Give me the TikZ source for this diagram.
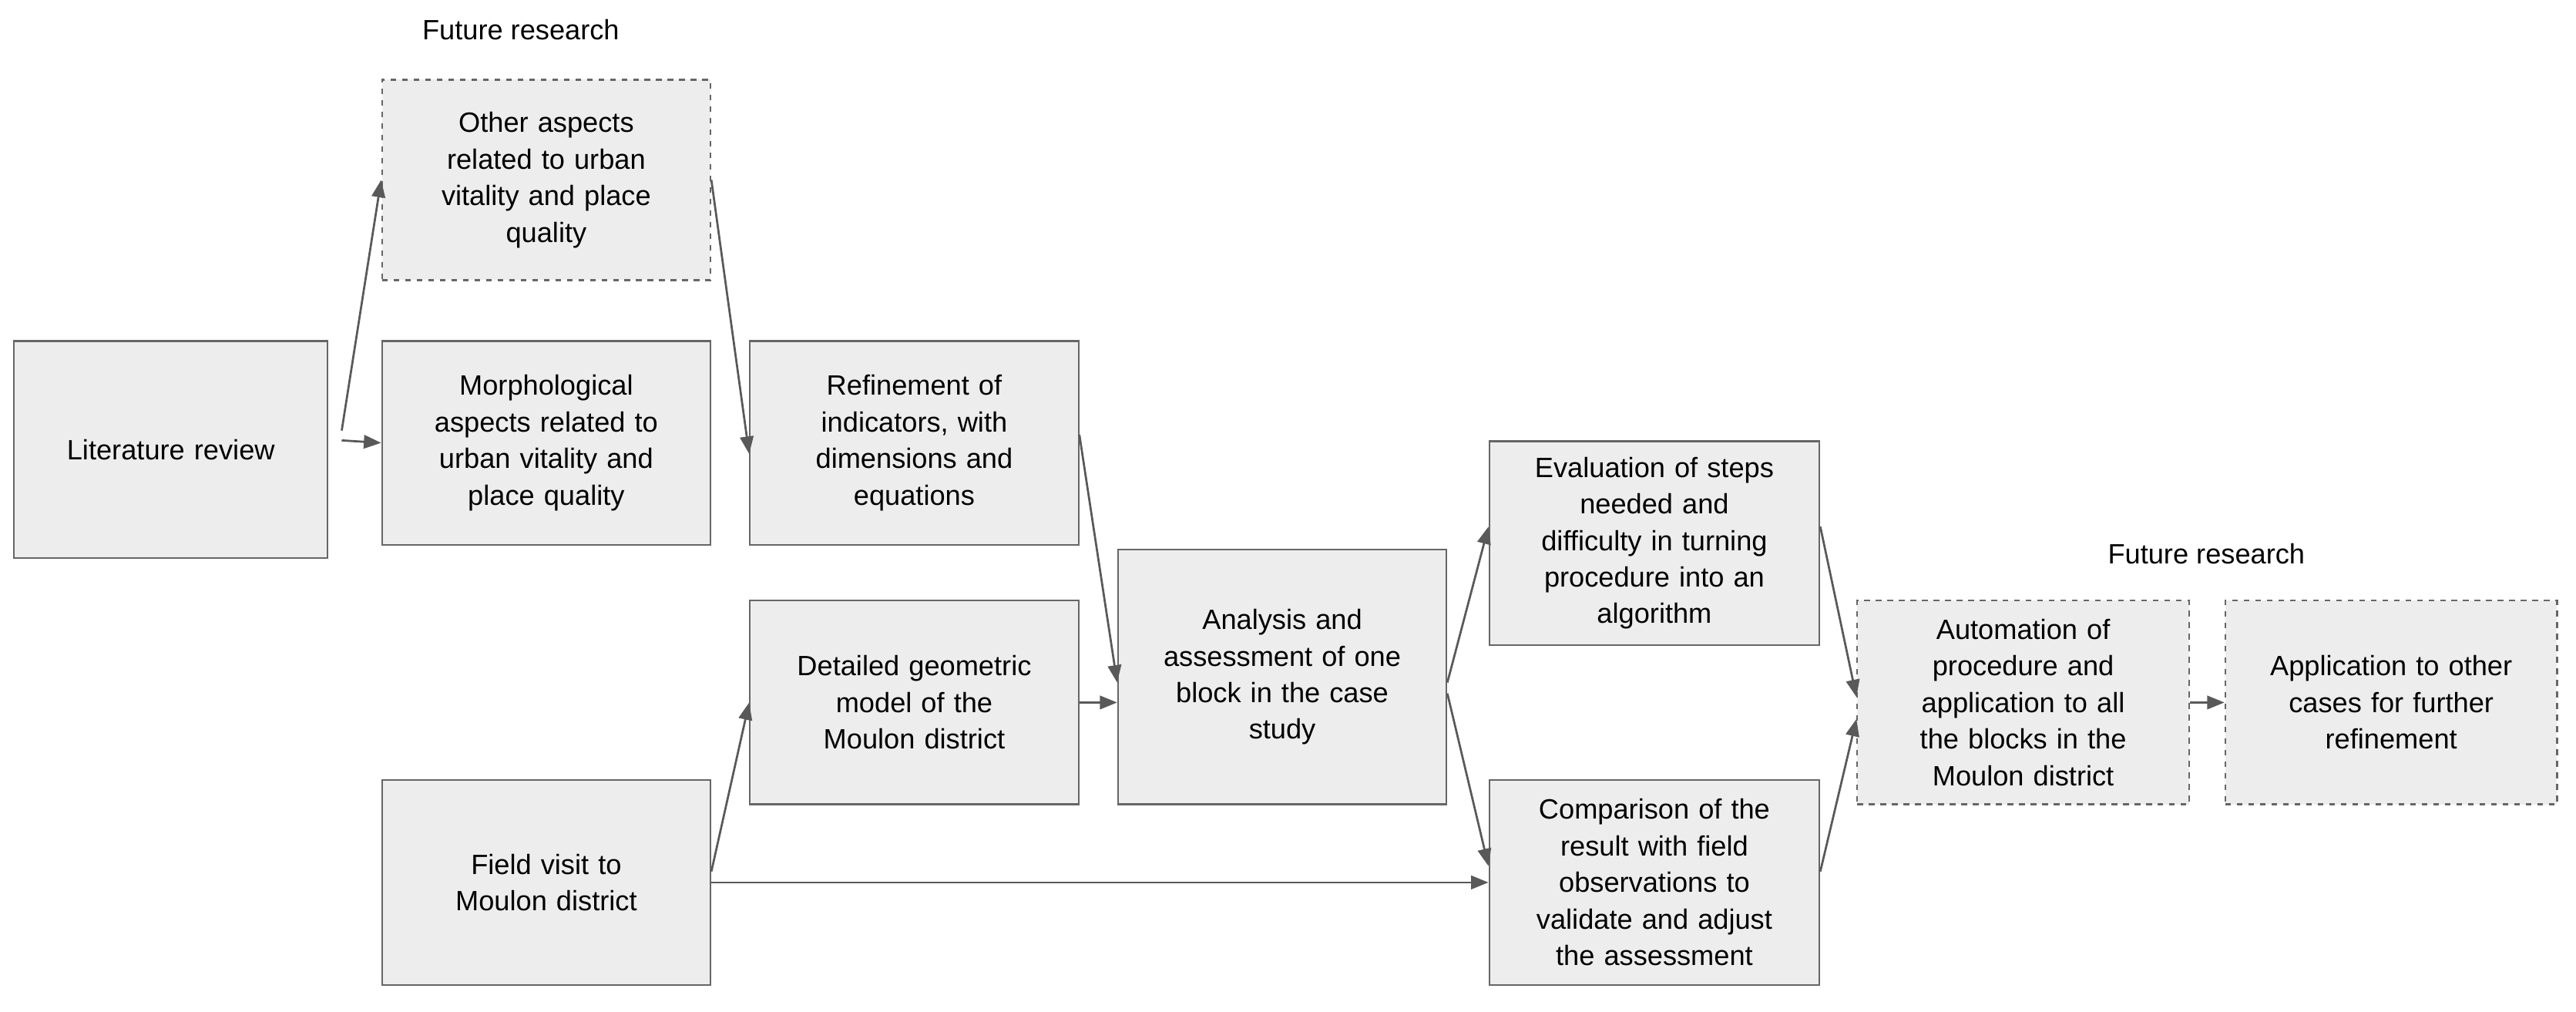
\documentclass[tikz,border=0pt]{standalone}
\usepackage{fontspec}
\setmainfont{Liberation Sans}
\usetikzlibrary{arrows.meta}
\begin{document}
\begin{tikzpicture}[x=0.03cm,y=-0.03cm,
 box/.style={draw=black!60,fill=black!7,line width=0.9pt,align=center,font=\fontsize{14.5}{19}\selectfont,inner sep=0pt},
 fut/.style={box,dashed},
 arr/.style={draw=black!65,line width=1.1pt,-{Triangle[length=9pt,width=7pt]}},
 lab/.style={font=\fontsize{14.5}{18}\selectfont}]
\useasboundingbox (0,0) rectangle (1568,615.4);
\newcommand{\bx}[7]{\node[#1,minimum width=#4*0.03cm-0.9pt,minimum height=#5*0.03cm-0.9pt,text width=#6] (#2) at (#3) {#7};}
\bx{box}{lit}{104,273.5}{192}{133}{5.5cm}{Literature review}
\bx{fut}{oth}{332.5,109.5}{201}{123}{5.3cm}{Other aspects\\related to urban\\vitality and place\\quality}
\bx{box}{mor}{332.5,269.5}{201}{125}{5.3cm}{Morphological\\aspects related to\\urban vitality and\\place quality}
\bx{box}{ref}{556.5,269.5}{201}{125}{5.3cm}{Refinement of\\indicators, with\\dimensions and\\equations}
\bx{box}{det}{556.5,427.5}{201}{125}{5.3cm}{Detailed geometric\\model of the\\Moulon district}
\bx{box}{fld}{332.5,537}{201}{126}{5.3cm}{Field visit to\\Moulon district}
\bx{box}{ana}{780.5,412}{201}{156}{5.3cm}{Analysis and\\assessment of one\\block in the case\\study}
\bx{box}{eva}{1007,330.5}{202}{125}{5.3cm}{Evaluation of steps\\needed and\\difficulty in turning\\procedure into an\\algorithm}
\bx{box}{com}{1007,537}{202}{126}{5.3cm}{Comparison of the\\result with field\\observations to\\validate and adjust\\the assessment}
\bx{fut}{aut}{1231.5,427.5}{203}{125}{5.3cm}{Automation of\\procedure and\\application to all\\the blocks in the\\Moulon district}
\bx{fut}{app}{1455.5,427.5}{203}{125}{5.3cm}{Application to other\\cases for further\\refinement}
\node[lab] (f1) at (317,18) {Future research};
\node[lab] (f2) at (1343,337) {Future research};
\coordinate (a1) at (208,262); \coordinate (a2) at (208,268);
\draw[arr] (a1) -- ([yshift=0]oth.west);
\draw[arr] (a2) -- (mor.west);
\draw[arr] ([yshift=0*1cm]oth.east) -- ([yshift=-0.2cm]ref.west);
\draw[arr] ([yshift=0.15cm]ref.east) -- ([yshift=-0.1cm]ana.west);
\draw[arr] (det.east) -- (det.east -| ana.west);
\draw[arr] ([yshift=0.2cm]fld.east) -- (det.west);
\draw[arr] ([yshift=0.0cm]fld.east) -- (fld.east -| com.west);
\draw[arr] ([yshift=-0.1cm]ana.east) -- ([yshift=0.3cm]eva.west);
\draw[arr] ([yshift=-0.3cm]ana.east) -- ([yshift=0.3cm]com.west);
\draw[arr] ([yshift=0.3cm]eva.east) -- ([yshift=0.1cm]aut.west);
\draw[arr] ([yshift=0.2cm]com.east) -- ([yshift=-0.3cm]aut.west);
\draw[arr] (aut.east) -- (app.west);
\end{tikzpicture}
\end{document}
